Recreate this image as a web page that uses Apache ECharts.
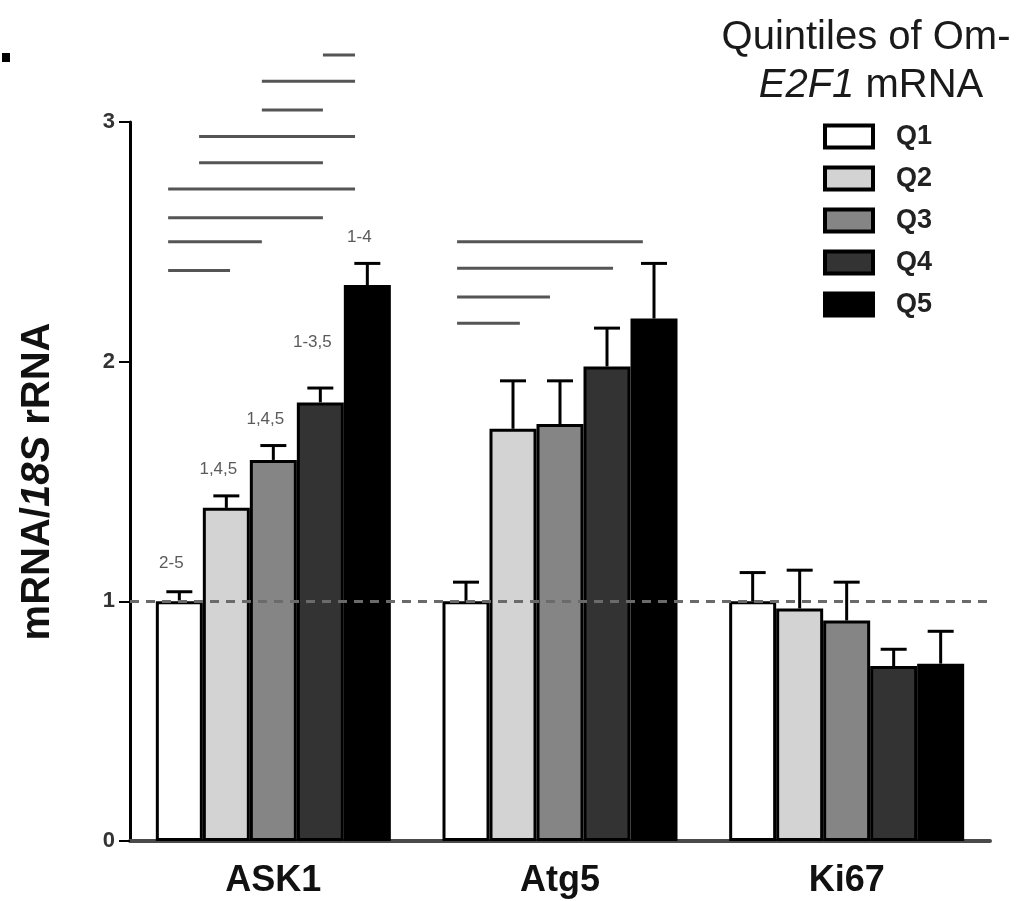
<!DOCTYPE html>
<html>
<head>
<meta charset="utf-8">
<script src="https://cdn.jsdelivr.net/npm/echarts@6/dist/echarts.min.js"></script>
<style>
  html, body { margin: 0; padding: 0; background: #fff; }
  #chart { width: 1034px; height: 901px; }
</style>
</head>
<body>
<div id="chart"></div>
<script>
// genes on the x axis, quintiles of Om-E2F1 mRNA as the bar series
var categories = ['ASK1', 'Atg5', 'Ki67'];
var quintiles = ['Q1', 'Q2', 'Q3', 'Q4', 'Q5'];
var yTicks = [0, 1, 2, 3];

// mean mRNA/18S rRNA per gene
var meanQ1 = [1.00, 1.00, 1.00];
var meanQ2 = [1.39, 1.72, 0.97];
var meanQ3 = [1.59, 1.74, 0.92];
var meanQ4 = [1.83, 1.98, 0.73];
var meanQ5 = [2.32, 2.18, 0.74];

// upper error (SEM)
var semQ1 = [0.04, 0.08, 0.12];
var semQ2 = [0.05, 0.20, 0.16];
var semQ3 = [0.06, 0.18, 0.16];
var semQ4 = [0.06, 0.16, 0.07];
var semQ5 = [0.09, 0.23, 0.135];

// significance notes above the ASK1 bars
var ask1Notes = ['2-5', '1,4,5', '1,4,5', '1-3,5', '1-4'];
var ask1NoteLevel = [1.16, 1.55, 1.76, 2.08, 2.52];

// comparison lines (x in category units 0..3, y in mRNA/18S rRNA)
var sigStart = [0.673, 0.460, 0.460, 0.241, 0.241, 0.133, 0.133, 0.133, 0.133, 1.141, 1.141, 1.141, 1.141];
var sigEnd   = [0.785, 0.785, 0.673, 0.785, 0.673, 0.785, 0.673, 0.460, 0.349, 1.789, 1.685, 1.465, 1.360];
var sigLevel = [3.28, 3.17, 3.05, 2.94, 2.83, 2.72, 2.60, 2.50, 2.38, 2.50, 2.39, 2.27, 2.16];

var means = [meanQ1, meanQ2, meanQ3, meanQ4, meanQ5];
var sems = [semQ1, semQ2, semQ3, semQ4, semQ5];
var colors = ['#ffffff', '#d3d3d3', '#858585', '#333333', '#000000'];
var BAR_W = 47;

var chart = echarts.init(document.getElementById('chart'));

var series = [];
quintiles.forEach(function (q, k) {
    series.push({
        name: q,
        type: 'bar',
        barWidth: BAR_W,
        barGap: '0%',
        itemStyle: { color: colors[k], borderColor: '#000', borderWidth: 3 },
        data: means[k]
    });
});

// error bars (upper only)
var errData = [];
quintiles.forEach(function (q, k) {
    categories.forEach(function (c, ci) {
        errData.push([ci, means[k][ci] + sems[k][ci], means[k][ci], k]);
    });
});
series.push({
    type: 'custom',
    z: 4,
    silent: true,
    encode: { x: 0, y: [1, 2] },
    data: errData,
    renderItem: function (params, api) {
        var ci = api.value(0);
        var top = api.coord([ci, api.value(1)]);
        var base = api.coord([ci, api.value(2)]);
        var x = top[0] + (api.value(3) - 2) * BAR_W;
        return {
            type: 'group',
            children: [
                { type: 'line', shape: { x1: x, y1: base[1], x2: x, y2: top[1] }, style: { stroke: '#000', lineWidth: 3 } },
                { type: 'line', shape: { x1: x - 13, y1: top[1], x2: x + 13, y2: top[1] }, style: { stroke: '#000', lineWidth: 3 } }
            ]
        };
    },
    // reference line at 1
    markLine: {
        silent: true,
        symbol: 'none',
        label: { show: false },
        lineStyle: { color: '#6a6a6a', type: [9, 7], width: 3 },
        data: [{ yAxis: 1 }]
    }
});

// notes over ASK1 bars
series.push({
    type: 'custom',
    z: 4,
    silent: true,
    encode: { x: 0, y: 1 },
    data: ask1Notes.map(function (t, k) { return [0, ask1NoteLevel[k], k]; }),
    renderItem: function (params, api) {
        var p = api.coord([api.value(0), api.value(1)]);
        return {
            type: 'text',
            x: p[0] + (api.value(2) - 2) * BAR_W - 8,
            y: p[1],
            style: {
                text: ask1Notes[params.dataIndex],
                fill: '#5a5a5a',
                font: '17px "Liberation Sans", Arial, sans-serif',
                align: 'center',
                verticalAlign: 'middle'
            }
        };
    }
});

// comparison lines above the bars
series.push({
    type: 'custom',
    xAxisIndex: 1,
    z: 4,
    silent: true,
    clip: false,
    encode: { x: [0, 1], y: 2 },
    data: sigLevel.map(function (v, i) { return [sigStart[i], sigEnd[i], v]; }),
    renderItem: function (params, api) {
        var a = api.coord([api.value(0), api.value(2)]);
        var b = api.coord([api.value(1), api.value(2)]);
        return {
            type: 'line',
            shape: { x1: a[0], y1: a[1], x2: b[0], y2: b[1] },
            style: { stroke: '#555', lineWidth: 3 }
        };
    }
});

var option = {
    animation: false,
    backgroundColor: '#fff',
    textStyle: { fontFamily: '"Liberation Sans", Arial, sans-serif' },
    grid: { left: 130, right: 44, top: 122, bottom: 60 },
    legend: {
        orient: 'vertical',
        left: 818,
        top: 118,
        itemWidth: 48,
        itemHeight: 22,
        itemGap: 15,
        icon: 'rect',
        selectedMode: false,
        data: quintiles,
        itemStyle: { borderColor: '#000', borderWidth: 4 },
        textStyle: { fontSize: 27, fontWeight: 'bold', color: '#222', padding: [0, 0, 0, 18] }
    },
    graphic: [
        { type: 'rect', shape: { x: 2, y: 53, width: 8, height: 9 }, style: { fill: '#000' } },
        {
            type: 'text', x: 866, y: 38,
            style: { text: 'Quintiles of Om-', fill: '#1a1a1a', font: '40px "Liberation Sans", Arial, sans-serif', align: 'center', verticalAlign: 'middle' }
        },
        {
            type: 'text', x: 871, y: 86,
            style: {
                text: '{i|E2F1} mRNA',
                fill: '#1a1a1a',
                font: '40px "Liberation Sans", Arial, sans-serif',
                align: 'center',
                verticalAlign: 'middle',
                rich: { i: { fontStyle: 'italic', fontSize: 40, fill: '#1a1a1a', fontFamily: '"Liberation Sans", Arial, sans-serif' } }
            }
        }
    ],
    xAxis: [{
        type: 'category',
        data: categories,
        axisLine: { lineStyle: { color: '#4a4a4a', width: 4 } },
        axisTick: { show: false },
        axisLabel: { fontSize: 36, fontWeight: 'bold', color: '#111', margin: 22 }
    }, {
        type: 'value',
        min: 0,
        max: 3,
        show: false
    }],
    yAxis: {
        type: 'value',
        min: yTicks[0],
        max: yTicks[yTicks.length - 1],
        interval: 1,
        name: 'mRNA/{i|18S} rRNA',
        nameLocation: 'middle',
        nameGap: 72,
        nameTextStyle: {
            fontSize: 40, fontWeight: 'bold', color: '#111',
            rich: { i: { fontSize: 40, fontWeight: 'bold', fontStyle: 'italic', color: '#111' } }
        },
        axisLine: { show: true, onZero: false, lineStyle: { color: '#000', width: 3 } },
        axisTick: { show: true, length: 11, lineStyle: { color: '#000', width: 2 } },
        axisLabel: { fontSize: 22, fontWeight: 'bold', color: '#333', margin: 15 },
        splitLine: { show: false }
    },
    series: series
};
chart.setOption(option, true);
</script>
</body>
</html>
